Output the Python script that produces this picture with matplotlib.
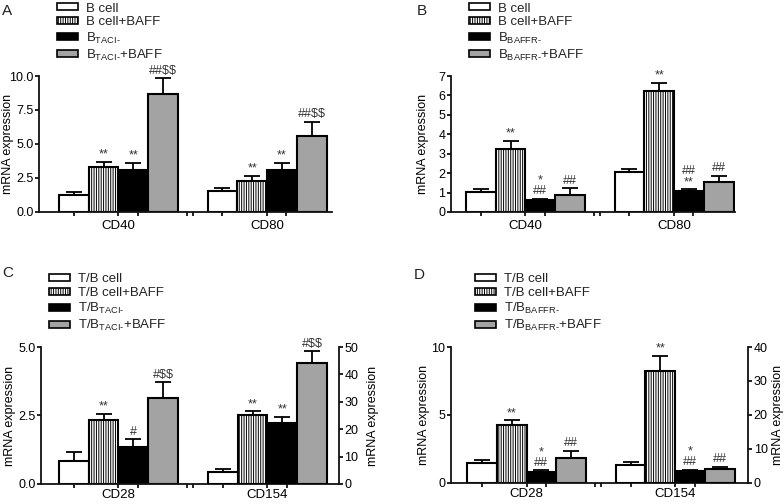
import matplotlib
matplotlib.use('Agg')
from matplotlib import pyplot as plt
from matplotlib.patches import Patch

plt.rcParams['font.family'] = ['Liberation Sans', 'DejaVu Sans']
plt.rcParams['font.size'] = 9
plt.rcParams['mathtext.fontset'] = 'custom'
plt.rcParams['mathtext.rm'] = 'Liberation Sans'
plt.rcParams['hatch.linewidth'] = 0.7
plt.rcParams['text.color'] = '#222222'
plt.rcParams['axes.edgecolor'] = '#111111'

# dados
genes_ab = ['CD40', 'CD80']
genes_cd = ['CD28', 'CD154']

rotulos_a = ['B cell', 'B cell+BAFF', r'B$_{\mathregular{TACI\text{-}}}$', r'B$_{\mathregular{TACI\text{-}}}$+BAFF']
rotulos_b = ['B cell', 'B cell+BAFF', r'B$_{\mathregular{BAFFR\text{-}}}$', r'B$_{\mathregular{BAFFR\text{-}}}$+BAFF']
rotulos_c = ['T/B cell', 'T/B cell+BAFF', r'T/B$_{\mathregular{TACI\text{-}}}$', r'T/B$_{\mathregular{TACI\text{-}}}$+BAFF']
rotulos_d = ['T/B cell', 'T/B cell+BAFF', r'T/B$_{\mathregular{BAFFR\text{-}}}$', r'T/B$_{\mathregular{BAFFR\text{-}}}$+BAFF']

a_cd40 = [1.24, 3.28, 3.07, 8.66]
a_cd40_erro = [0.24, 0.42, 0.51, 1.19]
a_cd80 = [1.56, 2.29, 3.09, 5.62]
a_cd80_erro = [0.22, 0.39, 0.49, 1.02]
a_marcas = [['', '**', '**', r'##\$\$'], ['', '**', '**', r'##\$\$']]

b_cd40 = [1.04, 3.24, 0.60, 0.89]
b_cd40_erro = [0.12, 0.42, 0.08, 0.34]
b_cd80 = [2.04, 6.22, 1.06, 1.53]
b_cd80_erro = [0.19, 0.42, 0.10, 0.34]
b_marcas = [['', '**', '*\n##', '##'], ['', '**', '##\n**', '##']]

c_cd28 = [0.85, 2.32, 1.34, 3.15]
c_cd28_erro = [0.32, 0.23, 0.29, 0.57]
c_cd154 = [4.5, 25.2, 22.4, 44.1]
c_cd154_erro = [1.1, 1.3, 2.2, 4.4]
c_marcas = [['', '**', '#', r'#\$\$'], ['', '**', '**', r'#\$\$']]

d_cd28 = [1.45, 4.24, 0.82, 1.86]
d_cd28_erro = [0.22, 0.36, 0.10, 0.51]
d_cd154 = [5.3, 32.8, 3.6, 4.2]
d_cd154_erro = [1.0, 4.7, 0.3, 0.55]
d_marcas = [['', '**', '*\n##', '##'], ['', '**', '*\n##', '##']]

cores = ['white', 'white', 'black', '#a3a3a3']
hachuras = [None, '|' * 7, None, None]


def barras_grupo(ax, inicio, valores, erros, marcas):
    for i in range(4):
        x = inicio + i
        ax.bar(x, valores[i], width=1, align='edge', color=cores[i], hatch=hachuras[i],
               edgecolor='black', linewidth=1.5, zorder=2)
        ax.errorbar(x + 0.5, valores[i], yerr=[[0], [erros[i]]], fmt='none', ecolor='black',
                    elinewidth=1.3, capsize=6, capthick=1.3, zorder=1)
        if marcas[i]:
            ax.annotate(marcas[i], (x + 0.5, valores[i] + erros[i]), xytext=(0, 1),
                        textcoords='offset points', ha='center', va='bottom',
                        fontsize=9, linespacing=0.85, color='#333333')


def preparar_eixo(ax, genes, xlim, pad_x, pos_rotulo):
    ax.set_xlim(*xlim)
    ticks = [0.5, 2.0, 2.65, 4.3, 4.5, 5.5, 7.0, 7.65]
    nomes = ['', genes[0], '', '', '', '', genes[1], '']
    ax.set_xticks(ticks)
    ax.set_xticklabels(nomes)
    ax.tick_params(direction='out', length=3, width=1.2, labelsize=9, pad=1)
    ax.tick_params(axis='x', pad=pad_x, labelsize=9.5)
    ax.spines['top'].set_visible(False)
    ax.spines['right'].set_visible(False)
    for lado in ['left', 'bottom']:
        ax.spines[lado].set_linewidth(1.3)
    ax.set_ylabel('mRNA expression', fontsize=9)
    ax.yaxis.set_label_coords(pos_rotulo, 0.5)


def legenda(fig, rotulos, x, y):
    alcas = [Patch(facecolor=cores[i], hatch=hachuras[i], edgecolor='black', linewidth=1.2)
             for i in range(4)]
    fig.legend(alcas, rotulos, loc='upper left', bbox_to_anchor=(x, y), frameon=False,
               fontsize=9.5, handlelength=1.6, handleheight=0.45, handletextpad=0.6,
               labelspacing=0.15, borderpad=0, borderaxespad=0)


fig = plt.figure(figsize=(7.84, 5.04), dpi=100)

# painel A
ax_a = fig.add_axes([0.0497, 0.5794, 0.3737, 0.2698])
barras_grupo(ax_a, 0, a_cd40, a_cd40_erro, a_marcas[0])
barras_grupo(ax_a, 5, a_cd80, a_cd80_erro, a_marcas[1])
preparar_eixo(ax_a, genes_ab, (-0.67, 9.18), 3, -0.085)
ax_a.set_ylim(0, 10)
ax_a.set_yticks([0, 2.5, 5, 7.5, 10])
ax_a.set_yticklabels(['0.0', '2.5', '5.0', '7.5', '10.0'])
legenda(fig, rotulos_a, 0.0727, 0.995)
fig.text(0.003, 0.993, 'A', fontsize=11, va='top')

# painel B
ax_b = fig.add_axes([0.5753, 0.5794, 0.3622, 0.2698])
barras_grupo(ax_b, 0, b_cd40, b_cd40_erro, b_marcas[0])
barras_grupo(ax_b, 5, b_cd80, b_cd80_erro, b_marcas[1])
preparar_eixo(ax_b, genes_ab, (-0.5, 9.05), 3, -0.077)
ax_b.set_ylim(0, 7)
ax_b.set_yticks(range(8))
legenda(fig, rotulos_b, 0.598, 0.995)
fig.text(0.532, 0.993, 'B', fontsize=11, va='top')

# painel C
ax_c = fig.add_axes([0.0523, 0.0397, 0.3801, 0.2718])
ax_c2 = ax_c.twinx()
barras_grupo(ax_c, 0, c_cd28, c_cd28_erro, c_marcas[0])
barras_grupo(ax_c2, 5, c_cd154, c_cd154_erro, c_marcas[1])
preparar_eixo(ax_c, genes_cd, (-0.6, 9.4), 0.5, -0.084)
ax_c.set_ylim(0, 5)
ax_c.set_yticks([0, 2.5, 5])
ax_c.set_yticklabels(['0.0', '2.5', '5.0'])
ax_c2.set_ylim(0, 50)
ax_c2.set_yticks(range(0, 51, 10))
ax_c2.set_ylabel('mRNA expression', fontsize=9)
ax_c2.yaxis.set_label_coords(1.094, 0.5)
legenda(fig, rotulos_c, 0.0625, 0.458)
fig.text(0.003, 0.472, 'C', fontsize=11, va='top')

# painel D
ax_d = fig.add_axes([0.5753, 0.0417, 0.3788, 0.2698])
ax_d2 = ax_d.twinx()
barras_grupo(ax_d, 0, d_cd28, d_cd28_erro, d_marcas[0])
barras_grupo(ax_d2, 5, d_cd154, d_cd154_erro, d_marcas[1])
preparar_eixo(ax_d, genes_cd, (-0.54, 9.45), 0.5, -0.071)
ax_d.set_ylim(0, 10)
ax_d.set_yticks([0, 5, 10])
ax_d2.set_ylim(0, 40)
ax_d2.set_yticks(range(0, 41, 10))
ax_d2.set_ylabel('mRNA expression', fontsize=9)
ax_d2.yaxis.set_label_coords(1.08, 0.5)
legenda(fig, rotulos_d, 0.606, 0.458)
fig.text(0.528, 0.468, 'D', fontsize=11, va='top')

for ax2 in [ax_c2, ax_d2]:
    ax2.spines['top'].set_visible(False)
    ax2.spines['left'].set_visible(False)
    ax2.spines['bottom'].set_visible(False)
    ax2.spines['right'].set_linewidth(1.3)
    ax2.tick_params(direction='out', length=3, width=1.2, labelsize=9, pad=1)

fig.savefig('out.png', dpi=100)
